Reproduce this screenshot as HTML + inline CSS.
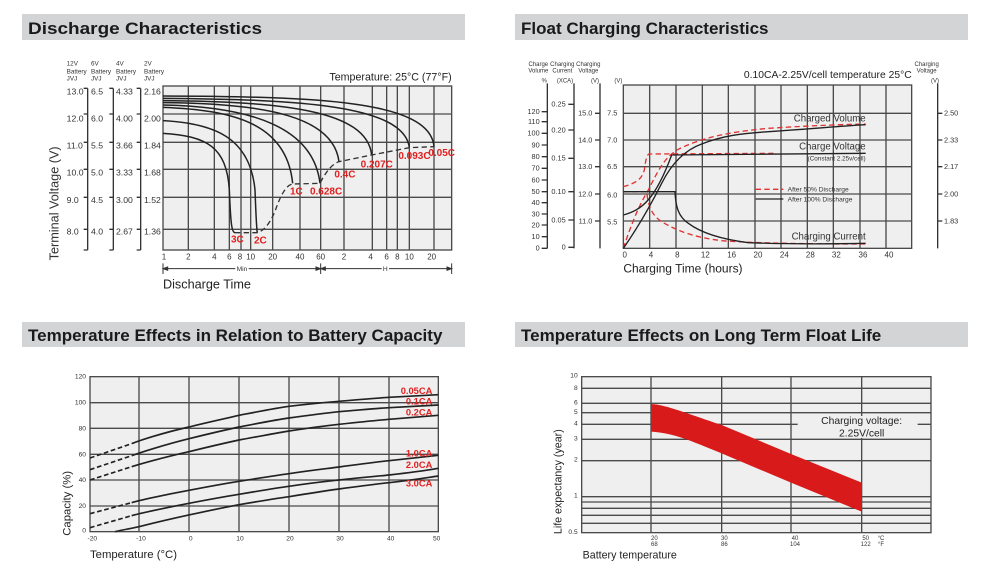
<!DOCTYPE html>
<html><head><meta charset="utf-8"><style>
html,body{margin:0;padding:0;background:#fff;}
svg{display:block;font-family:"Liberation Sans",Arial,sans-serif;}
</style></head><body>
<svg width="1000" height="583" viewBox="0 0 1000 583" xmlns="http://www.w3.org/2000/svg">
<rect x="22" y="14" width="443" height="26" fill="#d3d4d6"/>
<text x="28" y="34" font-size="17" font-weight="bold" fill="#1a1a1a" textLength="234" lengthAdjust="spacingAndGlyphs">Discharge Characteristics</text>
<rect x="515" y="14" width="453" height="26" fill="#d3d4d6"/>
<text x="521" y="34" font-size="17" font-weight="bold" fill="#1a1a1a">Float Charging Characteristics</text>
<rect x="22" y="322" width="443" height="25" fill="#d3d4d6"/>
<text x="28" y="341" font-size="17" font-weight="bold" fill="#1a1a1a">Temperature Effects in Relation to Battery Capacity</text>
<rect x="515" y="322" width="453" height="25" fill="#d3d4d6"/>
<text x="521" y="341" font-size="17" font-weight="bold" fill="#1a1a1a">Temperature Effects on Long Term Float Life</text>

<g transform="translate(0,50) scale(0.33333)">
<rect x="489" y="108" width="866" height="492" fill="#efefef"/>
<g stroke="#4a4a4a" stroke-width="4" fill="none">
<path d="M489,192H1355M489,277H1355M489,358H1355M489,442H1355M489,538H1355"/>
<path d="M565,108V600M643,108V600M688,108V600M723,108V600M752,108V600M818,108V600M900,108V600M962,108V600M1032,108V600M1117,108V600M1160,108V600M1192,108V600M1228,108V600M1302,108V600"/>
<rect x="489" y="108" width="866" height="492"/>
</g>
<g stroke="#222" stroke-width="4.5" fill="none">
<path d="M489,250 C620,258 680,290 688,420 C692,520 695,548 705,548"/>
<path d="M489,212 C640,220 750,260 765,420 C768,500 770,540 772,548"/>
<path d="M489,172 C700,180 860,220 878,400"/>
<path d="M489,165 C750,170 940,230 960,400"/>
<path d="M489,158 C800,160 1000,200 1017,335"/>
<path d="M489,152 C850,155 1100,180 1115,315"/>
<path d="M489,145 C900,148 1210,165 1228,292"/>
<path d="M489,138 C950,140 1290,150 1302,290"/>
</g>
<path d="M705,548 L772,548 C800,540 820,500 830,470 C845,430 860,405 878,402 L960,400 C980,360 1000,340 1017,335 L1115,315 L1228,293 L1302,290" stroke="#333" stroke-width="4" fill="none" stroke-dasharray="16,10"/>
<g fill="#e02020" font-size="30" font-weight="bold">
<text x="693" y="578">3C</text><text x="762" y="580">2C</text><text x="870" y="433">1C</text>
<text x="930" y="433">0.628C</text><text x="1003" y="382">0.4C</text><text x="1082" y="352">0.207C</text>
<text x="1195" y="327">0.093C</text><text x="1285" y="318">0.05C</text>
</g>
<g font-size="19" fill="#333">
<text x="200" y="47">12V</text><text x="200" y="70">Battery</text><text x="200" y="92">JVJ</text>
<text x="273" y="47">6V</text><text x="273" y="70">Battery</text><text x="273" y="92">JVJ</text>
<text x="348" y="47">4V</text><text x="348" y="70">Battery</text><text x="348" y="92">JVJ</text>
<text x="432" y="47">2V</text><text x="432" y="70">Battery</text><text x="432" y="92">JVJ</text>
</g>
<g font-size="26" fill="#333">
<text x="200" y="134">13.0</text><text x="200" y="214">12.0</text><text x="200" y="296">11.0</text><text x="200" y="376">10.0</text><text x="200" y="459">9.0</text><text x="200" y="554">8.0</text>
<text x="273" y="134">6.5</text><text x="273" y="214">6.0</text><text x="273" y="296">5.5</text><text x="273" y="376">5.0</text><text x="273" y="459">4.5</text><text x="273" y="554">4.0</text>
<text x="348" y="134">4.33</text><text x="348" y="214">4.00</text><text x="348" y="296">3.66</text><text x="348" y="376">3.33</text><text x="348" y="459">3.00</text><text x="348" y="554">2.67</text>
<text x="432" y="134">2.16</text><text x="432" y="214">2.00</text><text x="432" y="296">1.84</text><text x="432" y="376">1.68</text><text x="432" y="459">1.52</text><text x="432" y="554">1.36</text>
</g>
<g stroke="#333" stroke-width="4" fill="none">
<path d="M263,115V600M251,115H263M251,192H263M251,277H263M251,358H263M251,442H263M251,538H263M251,600H263"/>
<path d="M340,115V600M328,115H340M328,192H340M328,277H340M328,358H340M328,442H340M328,538H340M328,600H340"/>
<path d="M422,115V600M410,115H422M410,192H422M410,277H422M410,358H422M410,442H422M410,538H422M410,600H422"/>
</g>
<text transform="translate(176,460) rotate(-90)" text-anchor="middle" font-size="38" fill="#333">Terminal Voltage (V)</text>
<text x="1355" y="92" text-anchor="end" font-size="32" fill="#222">Temperature: 25°C (77°F)</text>
<g font-size="24" fill="#333" text-anchor="middle">
<text x="492" y="628">1</text><text x="565" y="628">2</text><text x="643" y="628">4</text><text x="688" y="628">6</text><text x="720" y="628">8</text><text x="752" y="628">10</text><text x="818" y="628">20</text><text x="900" y="628">40</text><text x="962" y="628">60</text><text x="1032" y="628">2</text><text x="1112" y="628">4</text><text x="1160" y="628">6</text><text x="1192" y="628">8</text><text x="1228" y="628">10</text><text x="1295" y="628">20</text>
</g>
<g stroke="#333" stroke-width="3" fill="#333">
<path d="M489,640V672M962,640V672M1355,640V672M489,656H1355" fill="none"/>
<path d="M489,656l14,-5v10z M962,656l-14,-5v10z M962,656l14,-5v10z M1355,656l-14,-5v10z"/>
</g>
<rect x="706" y="646" width="40" height="20" fill="#fff"/>
<rect x="1145" y="646" width="22" height="20" fill="#fff"/>
<text x="726" y="663" font-size="20" text-anchor="middle" fill="#333">Min</text>
<text x="1156" y="663" font-size="20" text-anchor="middle" fill="#333">H</text>
<text x="489" y="715" font-size="38" fill="#222">Discharge Time</text>
</g>

<g transform="translate(515,50) scale(0.33333)">
<rect x="325" y="105" width="865" height="490" fill="#efefef"/>
<g stroke="#4a4a4a" stroke-width="4" fill="none">
<path d="M325,190H1190M325,270H1190M325,350H1190M325,432H1190M325,513H1190"/>
<path d="M404,105V595M483,105V595M562,105V595M640,105V595M720,105V595M798,105V595M877,105V595M955,105V595M1035,105V595M1113,105V595"/>
<rect x="325" y="105" width="865" height="490"/>
</g>
<g stroke="#e03030" stroke-width="4" fill="none" stroke-dasharray="16,10">
<path d="M325,410 C360,400 380,390 388,360 C392,330 395,315 402,312 L775,310"/>
<path d="M325,595 C350,520 370,470 400,420 C430,360 450,320 490,298 C560,262 650,245 760,235 C900,226 1000,223 1052,222"/>
<path d="M325,425 L395,425 C400,470 410,495 440,515 C490,545 540,562 620,572 C720,580 900,582 1052,582"/>
</g>
<g stroke="#222" stroke-width="4" fill="none">
<path d="M325,495 C380,480 420,450 470,315 L1052,310"/>
<path d="M325,595 C370,530 410,460 440,400 C470,340 510,300 560,282 C620,258 680,250 760,245 C900,236 1000,226 1052,224"/>
<path d="M325,425 L480,425 C482,470 490,500 520,520 C560,550 620,568 700,578 C800,582 950,582 1052,580"/>
</g>
<g font-size="18" fill="#333" text-anchor="middle">
<text x="70" y="48">Charge</text><text x="70" y="68">Volume</text><text x="88" y="98">%</text>
<text x="142" y="48">Charging</text><text x="142" y="68">Current</text><text x="150" y="98">(XCA)</text>
<text x="220" y="48">Charging</text><text x="220" y="68">Voltage</text><text x="240" y="98">(V)</text>
<text x="310" y="98">(V)</text>
<text x="1235" y="48">Charging</text><text x="1235" y="68">Voltage</text><text x="1260" y="98">(V)</text>
</g>
<g stroke="#333" stroke-width="4" fill="none">
<path d="M97,100V595M80,185H97M80,215H97M80,250H97M80,285H97M80,320H97M80,355H97M80,390H97M80,425H97M80,458H97M80,492H97M80,525H97M80,560H97M80,595H97"/>
<path d="M177,100V595M160,163H177M160,240H177M160,325H177M160,425H177M160,510H177M160,592H177"/>
<path d="M255,100V595M240,190H255M240,270H255M240,350H255M240,432H255M240,513H255"/>
<path d="M1268,100V595M1268,190H1282M1268,270H1282M1268,350H1282M1268,432H1282M1268,513H1282"/>
</g>
<g font-size="22" fill="#333" text-anchor="end">
<text x="74" y="192">120</text><text x="74" y="222">110</text><text x="74" y="257">100</text><text x="74" y="292">90</text><text x="74" y="327">80</text><text x="74" y="362">70</text><text x="74" y="397">60</text><text x="74" y="432">50</text><text x="74" y="465">40</text><text x="74" y="499">30</text><text x="74" y="532">20</text><text x="74" y="567">10</text><text x="74" y="602">0</text>
<text x="152" y="170">0.25</text><text x="152" y="247">0.20</text><text x="152" y="332">0.15</text><text x="152" y="432">0.10</text><text x="152" y="517">0.05</text><text x="152" y="599">0</text>
<text x="232" y="197">15.0</text><text x="232" y="277">14.0</text><text x="232" y="357">13.0</text><text x="232" y="439">12.0</text><text x="232" y="520">11.0</text>
<text x="307" y="197">7.5</text><text x="307" y="277">7.0</text><text x="307" y="357">6.5</text><text x="307" y="443">6.0</text><text x="307" y="523">5.5</text>
</g>
<g font-size="22" fill="#333">
<text x="1287" y="197">2.50</text><text x="1287" y="277">2.33</text><text x="1287" y="357">2.17</text><text x="1287" y="439">2.00</text><text x="1287" y="520">1.83</text>
</g>
<text x="1190" y="84" text-anchor="end" font-size="31" fill="#222">0.10CA-2.25V/cell  temperature 25°C</text>
<g font-size="24" fill="#333" text-anchor="middle">
<text x="329" y="623">0</text><text x="408" y="623">4</text><text x="487" y="623">8</text><text x="571" y="623">12</text><text x="650" y="623">16</text><text x="729" y="623">20</text><text x="808" y="623">24</text><text x="886" y="623">28</text><text x="964" y="623">32</text><text x="1044" y="623">36</text><text x="1122" y="623">40</text>
</g>
<text x="325" y="668" font-size="36" fill="#222">Charging Time (hours)</text>
<g font-size="29" fill="#333" text-anchor="end">
<text x="1052" y="214">Charged Volume</text><text x="1052" y="298">Charge Voltage</text><text x="1052" y="568">Charging Current</text>
</g>
<text x="1052" y="332" font-size="19" fill="#333" text-anchor="end">(Constant 2.25v/cell)</text>
<path d="M722,418H805" stroke="#e03030" stroke-width="4" stroke-dasharray="16,10"/>
<path d="M722,447H805" stroke="#222" stroke-width="4"/>
<text x="818" y="425" font-size="20" fill="#333">After  50% Discharge</text>
<text x="818" y="454" font-size="20" fill="#333">After 100% Discharge</text>
</g>

<g transform="translate(0,310) scale(0.33333)">
<rect x="270" y="200" width="1045" height="465" fill="#efefef"/>
<g stroke="#4a4a4a" stroke-width="4" fill="none">
<path d="M270,278H1315M270,355H1315M270,433H1315M270,510H1315M270,588H1315"/>
<path d="M417,200V665M567,200V665M717,200V665M867,200V665M1017,200V665M1167,200V665"/>
<rect x="270" y="200" width="1045" height="465"/>
</g>
<g stroke="#222" stroke-width="5" fill="none" stroke-linejoin="round">
<path d="M395,401 C417,392 490,368 567,351 C640,333 680,325 717,316 C800,300 830,294 867,289 C940,280 980,277 1017,274 C1090,268 1130,264 1167,262 C1240,258 1280,256 1315,254"/>
<path d="M395,437 C417,429 490,405 567,386 C640,368 680,359 717,351 C800,335 830,329 867,324 C940,314 980,309 1017,305 C1090,299 1130,295 1167,293 C1240,289 1280,287 1315,285"/>
<path d="M395,470 C417,463 490,442 567,425 C640,407 680,398 717,390 C800,375 830,369 867,363 C940,352 980,347 1017,343 C1090,335 1130,331 1167,328 C1240,322 1280,319 1315,316"/>
<path d="M395,578 C417,572 490,555 567,541 C640,527 680,520 717,514 C800,501 830,496 867,491 C940,480 980,476 1017,471 C1090,461 1130,456 1167,452 C1240,444 1280,440 1315,436"/>
<path d="M395,617 C417,611 490,595 567,580 C640,566 680,559 717,553 C800,539 830,534 867,529 C940,518 980,514 1017,510 C1090,502 1130,499 1167,495 C1240,487 1280,481 1315,475"/>
<path d="M345,665 C370,659 395,655 417,650 C490,632 530,623 567,615 C640,599 680,591 717,584 C800,570 830,565 867,560 C940,548 980,542 1017,537 C1090,527 1130,522 1167,518 C1240,510 1280,503 1315,498"/>
</g>
<g stroke="#222" stroke-width="5" fill="none" stroke-dasharray="14,8">
<path d="M270,444 L395,401"/><path d="M270,479 L395,437"/><path d="M270,510 L395,470"/>
<path d="M270,611 L395,578"/><path d="M270,653 L395,617"/>
</g>
<g fill="#e02020" font-size="28" font-weight="bold" text-anchor="end">
<text x="1297" y="252">0.05CA</text><text x="1297" y="284">0.1CA</text><text x="1297" y="316">0.2CA</text>
<text x="1297" y="440">1.0CA</text><text x="1297" y="474">2.0CA</text><text x="1297" y="530">3.0CA</text>
</g>
<g font-size="20" fill="#333" text-anchor="end">
<text x="258" y="206">120</text><text x="258" y="284">100</text><text x="258" y="361">80</text><text x="258" y="439">60</text><text x="258" y="516">40</text><text x="258" y="594">20</text><text x="258" y="667">0</text>
</g>
<g font-size="20" fill="#333" text-anchor="middle">
<text x="277" y="692">-20</text><text x="423" y="692">-10</text><text x="572" y="692">0</text><text x="720" y="692">10</text><text x="870" y="692">20</text><text x="1020" y="692">30</text><text x="1172" y="692">40</text><text x="1310" y="692">50</text>
</g>
<text transform="translate(212,580) rotate(-90)" text-anchor="middle" font-size="34" fill="#222">Capacity (%)</text>
<text x="270" y="744" font-size="34" fill="#222">Temperature (°C)</text>
</g>

<g transform="translate(515,310) scale(0.33333)">
<rect x="200" y="200" width="1048" height="468" fill="#efefef"/>
<g stroke="#4a4a4a" stroke-width="4" fill="none">
<path d="M200,235H1248M200,280H1248M200,308H1248M200,343H1248M200,388H1248M200,452H1248M200,560H1248M200,576H1248M200,595H1248M200,616H1248M200,640H1248"/>
<path d="M408,200V668M620,200V668M828,200V668M1040,200V668"/>
<rect x="200" y="200" width="1048" height="468"/>
</g>
<rect x="848" y="318" width="360" height="66" fill="#efefef"/>
<path d="M408,282 C450,284 500,305 620,345 L828,432 L1040,518 L1040,605 L828,518 L620,430 C520,390 480,370 408,365 Z" fill="#d91a1a"/>
<text x="1040" y="342" font-size="31" text-anchor="middle" fill="#222">Charging voltage:</text>
<text x="1040" y="380" font-size="31" text-anchor="middle" fill="#222">2.25V/cell</text>
<g font-size="20" fill="#333" text-anchor="end">
<text x="188" y="202">10</text><text x="188" y="240">8</text><text x="188" y="284">6</text><text x="188" y="312">5</text><text x="188" y="347">4</text><text x="188" y="392">3</text><text x="188" y="455">2</text><text x="188" y="562">1</text><text x="188" y="672">0.5</text>
</g>
<g font-size="18" fill="#333" text-anchor="middle">
<text x="418" y="690">20</text><text x="418" y="708">68</text>
<text x="628" y="690">30</text><text x="628" y="708">86</text>
<text x="840" y="690">40</text><text x="840" y="708">104</text>
<text x="1052" y="690">50</text><text x="1052" y="708">122</text>
<text x="1098" y="690">°C</text><text x="1098" y="708">°F</text>
</g>
<text x="203" y="745" font-size="32" fill="#222">Battery temperature</text>
<text transform="translate(140,515) rotate(-90)" text-anchor="middle" font-size="32" fill="#222">Life expectancy (year)</text>
</g>
</svg>
</body></html>
